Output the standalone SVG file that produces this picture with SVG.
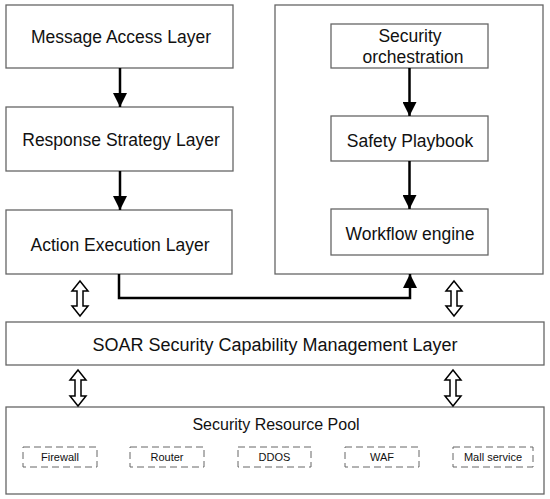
<svg xmlns="http://www.w3.org/2000/svg" width="550" height="499" viewBox="0 0 550 499">
<defs>
<style>
.box{fill:#fff;stroke:#666;stroke-width:1.3}
.dash{fill:none;stroke:#666;stroke-width:1;stroke-dasharray:7 4}
.lbl{font-family:"Liberation Sans",Arial,sans-serif;font-size:17.5px;fill:#111;text-anchor:middle}
.big{font-size:18px}
.pool{font-size:16px}
.sm{font-family:"Liberation Sans",Arial,sans-serif;font-size:11px;fill:#111;text-anchor:middle}
.line{fill:none;stroke:#000;stroke-width:2.5}
.dbl{fill:#fff;stroke:#000;stroke-width:1.5;stroke-linejoin:miter}
</style>
<marker id="ah" viewBox="0 0 10 10" refX="10" refY="5" markerWidth="5.6" markerHeight="5.6" markerUnits="strokeWidth" orient="auto">
<path d="M0,0 L10,5 L0,10 Z" fill="#000"/>
</marker>
</defs>
<rect width="550" height="499" fill="#fff"/>
<g id="orch-container"><rect class="box" x="275" y="5" width="268" height="269"/></g>
<g id="message-access"><rect class="box" x="6" y="5" width="227" height="63"/><text class="lbl" x="121" y="43">Message Access Layer</text></g>
<g id="response-strategy"><rect class="box" x="6" y="107" width="227" height="64"/><text class="lbl" x="121" y="146">Response Strategy Layer</text></g>
<g id="action-execution"><rect class="box" x="6" y="210" width="226" height="64"/><text class="lbl" x="120" y="251">Action Execution Layer</text></g>
<g id="security-orchestration"><rect class="box" x="331" y="24" width="157" height="44"/><text class="lbl" x="410" y="42">Security</text><text class="lbl" x="413" y="63">orchestration</text></g>
<g id="safety-playbook"><rect class="box" x="331" y="116" width="157" height="45"/><text class="lbl" x="410" y="147">Safety Playbook</text></g>
<g id="workflow-engine"><rect class="box" x="331" y="209" width="157" height="46"/><text class="lbl" x="410" y="240">Workflow engine</text></g>
<g id="soar-layer"><rect class="box" x="6" y="322" width="538" height="43"/><text class="lbl big" x="275" y="351">SOAR Security Capability Management Layer</text></g>
<g id="resource-pool"><rect class="box" x="6" y="407" width="538" height="87"/><text class="lbl pool" x="276" y="430">Security Resource Pool</text>
<g id="firewall"><rect class="dash" x="23" y="447" width="74" height="20"/><text class="sm" x="60" y="461">Firewall</text></g>
<g id="router"><rect class="dash" x="130" y="447" width="74" height="20"/><text class="sm" x="167" y="461">Router</text></g>
<g id="ddos"><rect class="dash" x="238" y="447" width="73" height="20"/><text class="sm" x="274.5" y="461">DDOS</text></g>
<g id="waf"><rect class="dash" x="345" y="447" width="74" height="20"/><text class="sm" x="382" y="461">WAF</text></g>
<g id="mall-service"><rect class="dash" x="453" y="447" width="80" height="20"/><text class="sm" x="493" y="461">Mall service</text></g>
</g>
<g id="connectors">
<path class="line" d="M120,68 V107" marker-end="url(#ah)"/>
<path class="line" d="M120,171 V210" marker-end="url(#ah)"/>
<path class="line" d="M409.5,68 V116" marker-end="url(#ah)"/>
<path class="line" d="M409.5,161 V209" marker-end="url(#ah)"/>
<path class="line" d="M119,274 V298 H410 V274" marker-end="url(#ah)"/>
<path class="dbl" d="M80,281 L88,291 L83,291 L83,306 L88,306 L80,316 L72,306 L77,306 L77,291 L72,291 Z"/>
<path class="dbl" d="M454,281 L462,291 L457,291 L457,306 L462,306 L454,316 L446,306 L451,306 L451,291 L446,291 Z"/>
<path class="dbl" d="M78,370 L86,380 L81,380 L81,396 L86,396 L78,406 L70,396 L75,396 L75,380 L70,380 Z"/>
<path class="dbl" d="M453,370 L461,380 L456,380 L456,396 L461,396 L453,406 L445,396 L450,396 L450,380 L445,380 Z"/>
</g>
</svg>
